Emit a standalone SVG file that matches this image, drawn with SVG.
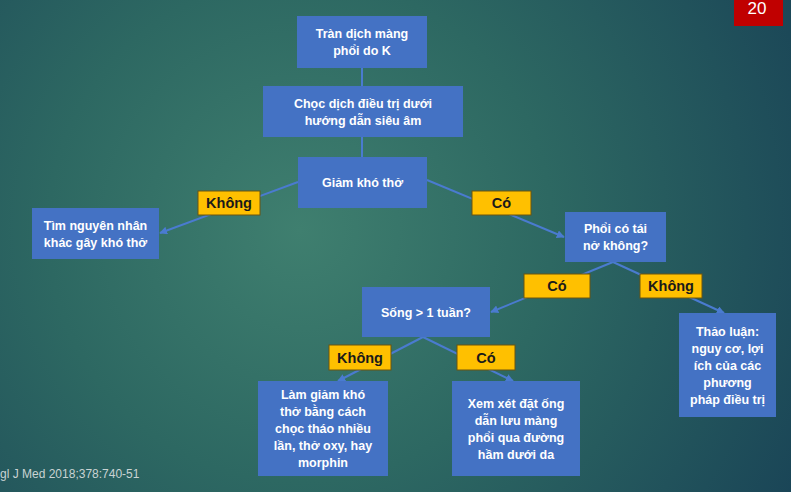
<svg xmlns="http://www.w3.org/2000/svg" width="791" height="492" viewBox="0 0 791 492">
<defs>
<radialGradient id="bg" cx="300" cy="230" r="560" gradientUnits="userSpaceOnUse">
<stop offset="0" stop-color="#3f7f6f"/>
<stop offset="0.45" stop-color="#2d6862"/>
<stop offset="1" stop-color="#1a4557"/>
</radialGradient>
<marker id="ah" viewBox="0 0 10 10" refX="9" refY="5" markerWidth="4" markerHeight="4" orient="auto">
<path d="M0,0 L10,5 L0,10 z" fill="#4a7bd0"/>
</marker>
<style>
.box{fill:#4472c4;}
.bt{font-family:"Liberation Sans",Arial,sans-serif;font-weight:bold;font-size:12.5px;fill:#ffffff;text-anchor:middle;}
.lab{fill:#ffc000;stroke:#6b5410;stroke-width:1;}
.lt{font-family:"Liberation Sans",Arial,sans-serif;font-weight:bold;font-size:14.5px;fill:#1a1a1a;text-anchor:middle;}
.ln{stroke:#4a7bd0;stroke-width:2;fill:none;}
</style>
</defs>
<rect width="791" height="492" fill="url(#bg)"/>
<g id="connectors">
<line class="ln" x1="362" y1="68" x2="362" y2="86"/>
<line class="ln" x1="362" y1="137" x2="362" y2="157"/>
<line class="ln" x1="298" y1="182" x2="160" y2="233" marker-end="url(#ah)"/>
<line class="ln" x1="427" y1="180" x2="564" y2="237" marker-end="url(#ah)"/>
<line class="ln" x1="613" y1="262" x2="491" y2="312" marker-end="url(#ah)"/>
<line class="ln" x1="613" y1="262" x2="724" y2="313" marker-end="url(#ah)"/>
<line class="ln" x1="423" y1="337" x2="338" y2="381" marker-end="url(#ah)"/>
<line class="ln" x1="423" y1="337" x2="513" y2="381" marker-end="url(#ah)"/>
</g>
<g id="n1"><rect class="box" x="297" y="16" width="130" height="52"/>
<text class="bt" x="362" y="38">Tràn dịch màng</text><text class="bt" x="362" y="55">phổi do K</text></g>
<g id="n2"><rect class="box" x="263" y="86" width="200" height="51"/>
<text class="bt" x="363" y="107.5">Chọc dịch điều trị dưới</text><text class="bt" x="363" y="124.5">hướng dẫn siêu âm</text></g>
<g id="n3"><rect class="box" x="298" y="157" width="129" height="51"/>
<text class="bt" x="362.5" y="187">Giảm khó thở</text></g>
<g id="n4"><rect class="box" x="32" y="208" width="127" height="51"/>
<text class="bt" x="95.5" y="229.5">Tìm nguyên nhân</text><text class="bt" x="95.5" y="246.5">khác gây khó thở</text></g>
<g id="n5"><rect class="box" x="565" y="212" width="101" height="50"/>
<text class="bt" x="615.5" y="233">Phổi có tái</text><text class="bt" x="615.5" y="250">nở không?</text></g>
<g id="n6"><rect class="box" x="362" y="287" width="128" height="50"/>
<text class="bt" x="426" y="316.5">Sống &gt; 1 tuần?</text></g>
<g id="n7"><rect class="box" x="679" y="313" width="97" height="104"/>
<text class="bt" x="727.5" y="335.5">Thảo luận:</text><text class="bt" x="727.5" y="352.5">nguy cơ, lợi</text><text class="bt" x="727.5" y="369.5">ích của các</text><text class="bt" x="727.5" y="386.5">phương</text><text class="bt" x="727.5" y="403.5">pháp điều trị</text></g>
<g id="n8"><rect class="box" x="258" y="381" width="130" height="95"/>
<text class="bt" x="323" y="399">Làm giảm khó</text><text class="bt" x="323" y="416">thở bằng cách</text><text class="bt" x="323" y="433">chọc tháo nhiều</text><text class="bt" x="323" y="450">lần, thở oxy, hay</text><text class="bt" x="323" y="467">morphin</text></g>
<g id="n9"><rect class="box" x="452" y="381" width="128" height="95"/>
<text class="bt" x="516" y="407.5">Xem xét đặt ống</text><text class="bt" x="516" y="424.5">dẫn lưu màng</text><text class="bt" x="516" y="441.5">phổi qua đường</text><text class="bt" x="516" y="458.5">hầm dưới da</text></g>
<g id="l1"><rect class="lab" x="198" y="191" width="62" height="24"/><text class="lt" x="229" y="208">Không</text></g>
<g id="l2"><rect class="lab" x="472" y="191" width="59" height="24"/><text class="lt" x="501.5" y="208">Có</text></g>
<g id="l3"><rect class="lab" x="524" y="274" width="66" height="24"/><text class="lt" x="557" y="291">Có</text></g>
<g id="l4"><rect class="lab" x="640" y="274" width="62" height="24"/><text class="lt" x="671" y="291">Không</text></g>
<g id="l5"><rect class="lab" x="329" y="345" width="62" height="25"/><text class="lt" x="360" y="362.5">Không</text></g>
<g id="l6"><rect class="lab" x="457" y="345" width="58" height="25"/><text class="lt" x="486" y="362.5">Có</text></g>
<text x="0" y="478" font-family="'Liberation Sans',Arial,sans-serif" font-size="12" fill="#c9d3d3">gl J Med 2018;378:740-51</text>
<g id="page"><rect x="734" y="-2" width="49" height="28" fill="#c00000"/>
<text x="757" y="14" font-family="'Liberation Sans',Arial,sans-serif" font-size="17" fill="#ffffff" text-anchor="middle">20</text></g>
</svg>
